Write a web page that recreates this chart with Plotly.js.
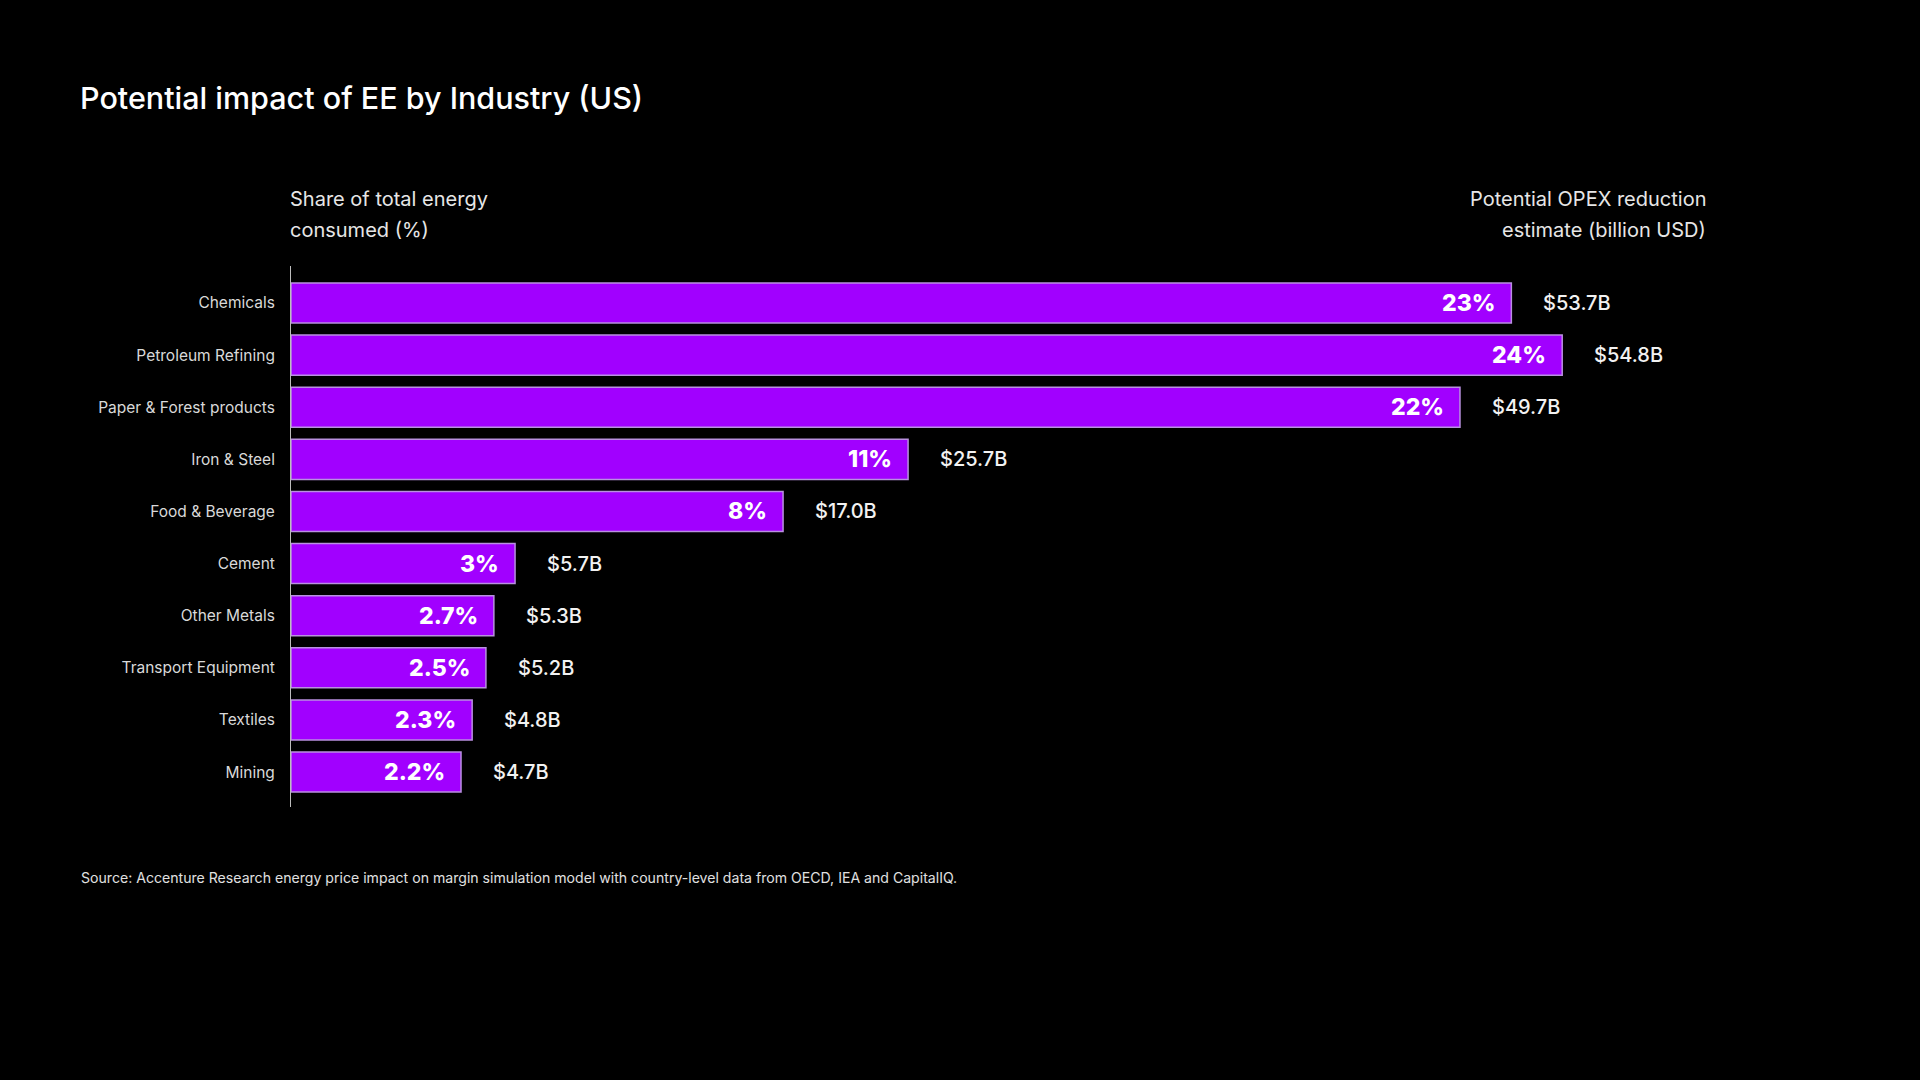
<!DOCTYPE html>
<html>
<head>
<meta charset="utf-8">
<script src="https://cdn.plot.ly/plotly-3.0.1.min.js"></script>
<style>
  html, body { margin: 0; padding: 0; background: #000; }
  #chart { width: 1920px; height: 1080px; }
</style>
</head>
<body>
<div id="chart"></div>
<script>
// ---- data ----
const industries = ["Chemicals", "Petroleum Refining", "Paper & Forest products", "Iron & Steel",
  "Food & Beverage", "Cement", "Other Metals", "Transport Equipment", "Textiles", "Mining"];
const shareLabels = ["23%", "24%", "22%", "11%", "8%", "3%", "2.7%", "2.5%", "2.3%", "2.2%"];
// bar lengths as drawn in the reference (in share-% units of the largest bars)
const barLength = [23.04, 24.0, 22.07, 11.65, 9.29, 4.23, 3.83, 3.68, 3.42, 3.21];
const opexLabels = ["$53.7B", "$54.8B", "$49.7B", "$25.7B", "$17.0B", "$5.7B", "$5.3B", "$5.2B", "$4.8B", "$4.7B"];

const titleText = "Potential impact of EE by Industry (US)";
const leftHeader = ["Share of total energy", "consumed (%)"];
const rightHeader = ["Potential OPEX reduction", "estimate (billion USD)"];
const sourceText = "Source: Accenture Research energy price impact on margin simulation model with country-level data from OECD, IEA and CapitalIQ.";

// ---- layout geometry ----
const W = 1920, H = 1080;
const L = 291, R = 40, T = 266, B = 273;
const plotW = W - L - R, plotH = H - T - B;
const px = x => (x - L) / plotW;
const py = y => 1 - (y - T) / plotH;
const FONT = "Inter, Roboto, 'Noto Sans', sans-serif";

const trace = {
  type: "bar",
  orientation: "h",
  y: industries,
  x: barLength,
  marker: { color: "#A100FF", line: { color: "#B990E0", width: 1.5 } },
  hoverinfo: "skip"
};

const annotations = [];
industries.forEach((c, i) => {
  annotations.push({
    x: barLength[i], y: c, xref: "x", yref: "y",
    text: shareLabels[i], showarrow: false,
    xanchor: "right", yanchor: "middle", xshift: -14,
    font: { family: FONT, size: 23, color: "#ffffff", weight: 800 }
  });
  annotations.push({
    x: barLength[i], y: c, xref: "x", yref: "y",
    text: opexLabels[i], showarrow: false,
    xanchor: "left", yanchor: "middle", xshift: 30,
    font: { family: FONT, size: 20, color: "#f2f2f2", weight: 500 }
  });
});

const headerY = [198.5, 230.5];
[0, 1].forEach(k => {
  annotations.push({
    xref: "paper", yref: "paper", x: px(288), y: py(headerY[k]), xanchor: "left", yanchor: "middle",
    text: leftHeader[k], showarrow: false, align: "left",
    font: { family: FONT, size: 20, color: "#e6e6e6" }
  });
  annotations.push({
    xref: "paper", yref: "paper", x: px(1708), y: py(headerY[k]), xanchor: "right", yanchor: "middle",
    text: rightHeader[k], showarrow: false, align: "right",
    font: { family: FONT, size: 20, color: "#e6e6e6" }
  });
});
annotations.push({
  xref: "paper", yref: "paper", x: px(79), y: py(878), xanchor: "left", yanchor: "middle",
  text: sourceText, showarrow: false, align: "left",
  font: { family: FONT, size: 14.1, color: "#e0e0e0" }
});

const layout = {
  width: W, height: H,
  paper_bgcolor: "#000000", plot_bgcolor: "#000000",
  margin: { l: L, r: R, t: T, b: B, pad: 0 },
  showlegend: false,
  bargap: 0.232,
  title: {
    text: titleText,
    x: 80 / W, xref: "container", xanchor: "left",
    y: 1 - 98 / H, yref: "container", yanchor: "middle",
    font: { family: FONT, size: 30.5, color: "#ffffff", weight: 500 }
  },
  xaxis: {
    range: [0, 30], visible: false, showgrid: false, zeroline: false, fixedrange: true
  },
  yaxis: {
    type: "category",
    range: [9.67, -0.71],
    showline: true, linecolor: "#bdbdbd", linewidth: 1,
    showgrid: false, zeroline: false, ticks: "",
    ticklabelstandoff: 12,
    tickfont: { family: FONT, size: 15.5, color: "#d9d9d9" },
    fixedrange: true
  },
  annotations: annotations
};

Plotly.newPlot("chart", [trace], layout, { displayModeBar: false, staticPlot: true });
</script>
</body>
</html>
